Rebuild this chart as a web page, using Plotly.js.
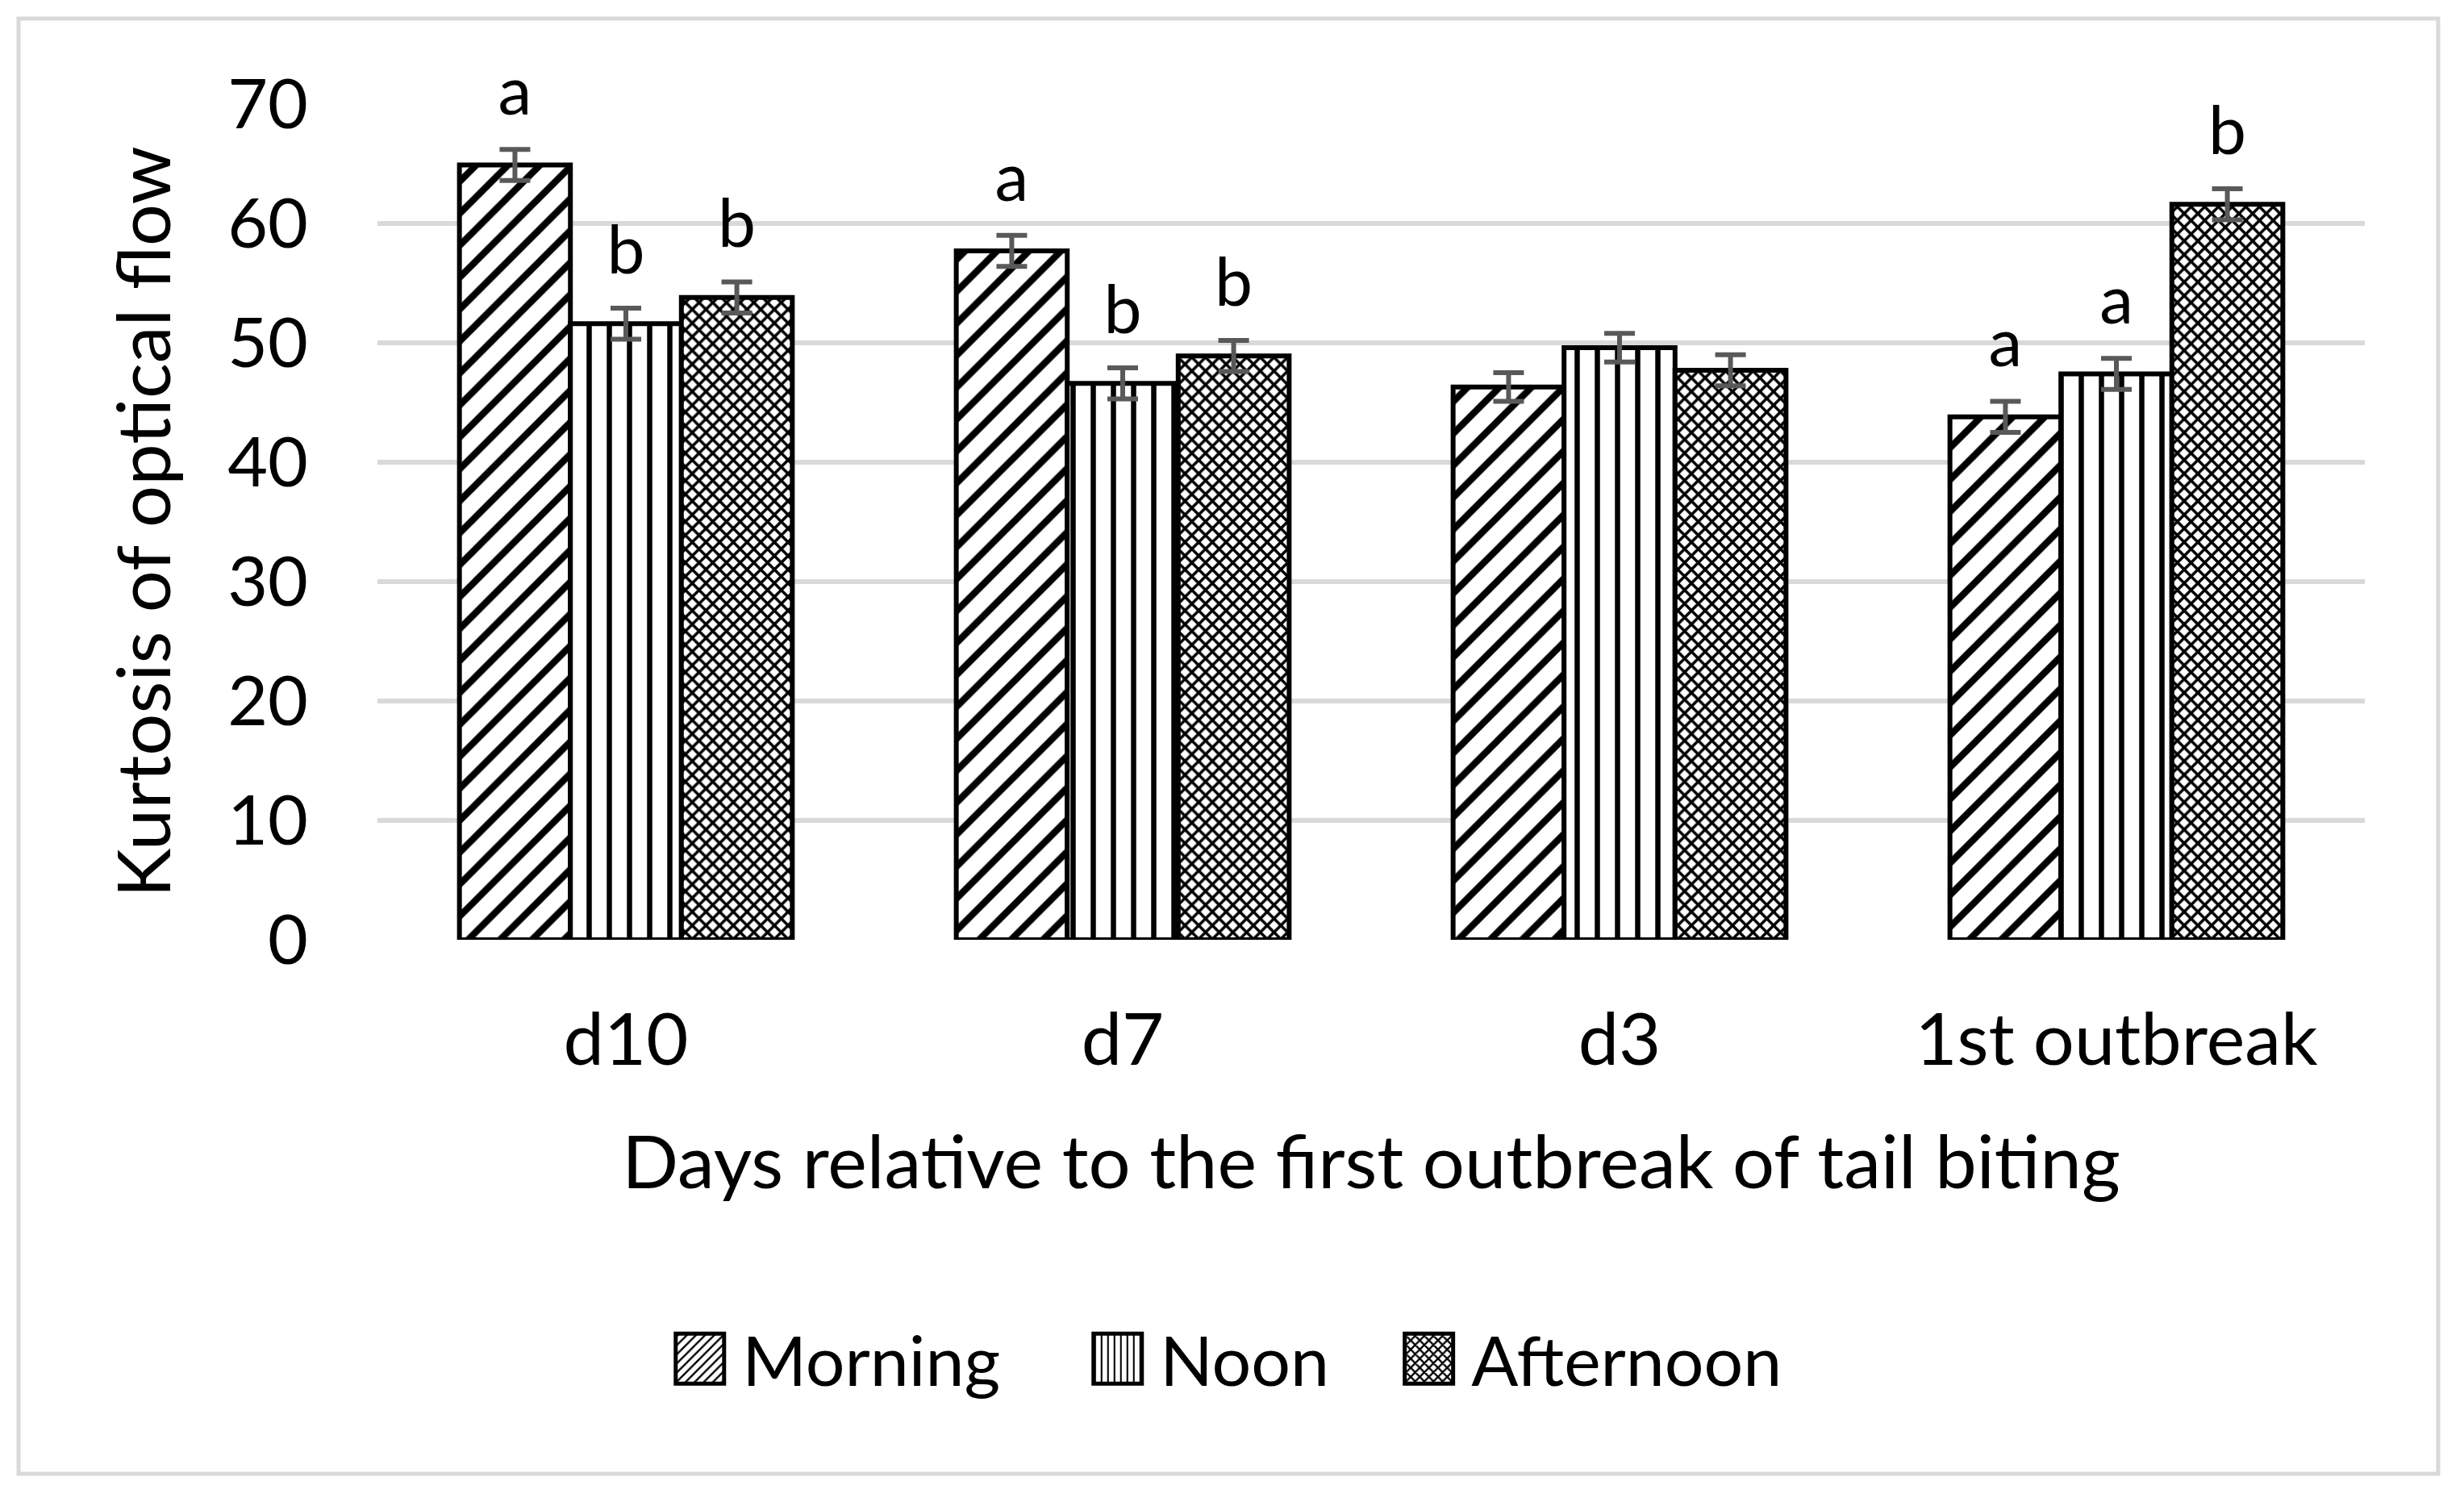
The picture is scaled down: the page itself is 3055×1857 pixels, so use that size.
<!DOCTYPE html>
<html>
<head>
<meta charset="utf-8">
<script src="https://cdn.plot.ly/plotly-3.0.1.min.js"></script>
<style>
  body { margin: 0; background: #fff; }
  #myDiv { width: 3055px; height: 1857px; }
</style>
</head>
<body>
<div id="myDiv"></div>
<script>
// values
var days = ['d10', 'd7', 'd3', '1st outbreak'];
var seriesNames = ['Morning', 'Noon', 'Afternoon'];
var morning = [64.9, 57.7, 46.3, 43.8];
var noon = [51.6, 46.6, 49.6, 47.4];
var afternoon = [53.8, 48.9, 47.7, 61.6];
var morningErr = [1.3, 1.3, 1.2, 1.3];
var noonErr = [1.3, 1.3, 1.2, 1.3];
var afternoonErr = [1.3, 1.3, 1.3, 1.3];
// significance letters (none for d3)
var morningLetters = ['a', 'a', '', 'a'];
var noonLetters = ['b', 'b', '', 'a'];
var afternoonLetters = ['b', 'b', '', 'b'];

var font = 'Lato, "Open Sans", sans-serif';

function barTrace(name, y, err, shape, size, solidity, pad) {
    return {
        x: days,
        y: y,
        name: name + pad,
        type: 'bar',
        offsetgroup: name,
        marker: {
            color: 'white',
            line: {color: 'black', width: 6},
            pattern: {shape: shape, size: size, solidity: solidity,
                      fgcolor: 'black', bgcolor: 'white', fillmode: 'replace'}
        },
        error_y: {type: 'data', array: err, visible: true,
                  color: '#595959', thickness: 6, width: 19}
    };
}

function letterTrace(name, y, err, letters) {
    let top = y.map(function(v, i) { return v + err[i]; });
    return {
        x: days,
        y: top,
        text: letters,
        mode: 'markers+text',
        type: 'scatter',
        offsetgroup: name,
        marker: {size: 34, color: 'rgba(0,0,0,0)'},
        textposition: 'top center',
        textfont: {family: font, size: 84, color: 'black'},
        cliponaxis: false,
        showlegend: false,
        hoverinfo: 'skip'
    };
}

let data = [
    barTrace(seriesNames[0], morning, morningErr, '/', 28, 0.3, '\u00a0\u00a0\u00a0\u00a0'),
    barTrace(seriesNames[1], noon, noonErr, '|', 25, 0.26, '\u00a0\u00a0\u00a0'),
    barTrace(seriesNames[2], afternoon, afternoonErr, 'x', 12, 0.5, ''),
    letterTrace(seriesNames[0], morning, morningErr, morningLetters),
    letterTrace(seriesNames[1], noon, noonErr, noonLetters),
    letterTrace(seriesNames[2], afternoon, afternoonErr, afternoonLetters)
];

let layout = {
    width: 3055,
    height: 1857,
    margin: {l: 468, r: 123, t: 129, b: 692},
    paper_bgcolor: 'white',
    plot_bgcolor: 'white',
    font: {family: font, size: 84, color: 'black'},
    barmode: 'group',
    bargap: 0.33,
    bargroupgap: 0,
    scattermode: 'group',
    scattergap: 0.33,
    xaxis: {
        type: 'category',
        showgrid: false,
        showline: false,
        zeroline: false,
        ticks: '',
        ticklabelstandoff: 64,
        tickfont: {family: font, size: 90, color: 'black'},
        title: {text: 'Days relative to the first outbreak of tail biting',
                font: {family: font, size: 92, color: 'black'},
                standoff: 70}
    },
    yaxis: {
        range: [0, 70],
        dtick: 10,
        showgrid: true,
        gridcolor: '#d9d9d9',
        gridwidth: 6,
        zeroline: false,
        showline: false,
        ticks: '',
        ticklabelstandoff: 85,
        tickfont: {family: font, size: 86, color: 'black'},
        title: {text: 'Kurtosis of optical flow',
                font: {family: font, size: 92, color: 'black'},
                standoff: 40}
    },
    legend: {
        orientation: 'h',
        xref: 'container',
        yref: 'container',
        x: 0.496,
        xanchor: 'center',
        y: 0.093,
        yanchor: 'middle',
        itemwidth: 95,
        font: {family: font, size: 86, color: 'black'}
    },
    shapes: [{
        type: 'rect',
        xref: 'paper', yref: 'paper',
        x0: -0.1806, x1: 1.0369, y0: -0.639, y1: 1.1023,
        line: {color: '#d9d9d9', width: 5},
        fillcolor: 'rgba(0,0,0,0)',
        layer: 'below'
    }],
    showlegend: true
};

Plotly.newPlot('myDiv', data, layout, {staticPlot: true}).then(function() {
    // bigger legend swatches, about 60px square as in the Excel figure
    document.querySelectorAll('.legend .legendpoints path').forEach(function(p) {
        p.setAttribute('d', 'M30,31H-30V-31H30Z');
        p.style.strokeWidth = '5px';
    });
});
</script>
</body>
</html>
